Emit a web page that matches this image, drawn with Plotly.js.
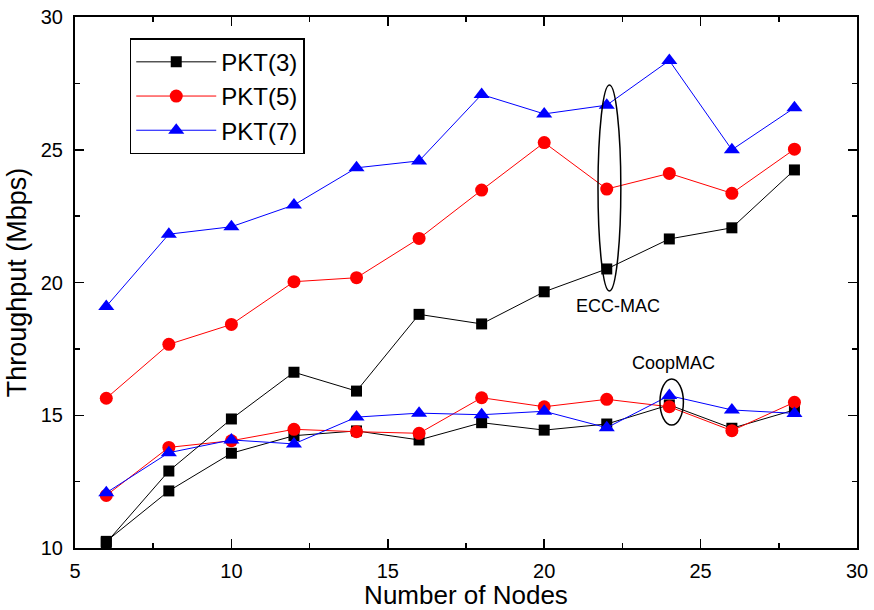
<!DOCTYPE html>
<html>
<head>
<meta charset="utf-8">
<script src="https://cdn.plot.ly/plotly-3.0.1.min.js"></script>
<style>html,body{margin:0;padding:0;background:#fff;}#chart{width:874px;height:610px;}</style>
</head>
<body>
<div id="chart"></div>
<script>
const nodes = [6, 8, 10, 12, 14, 16, 18, 20, 22, 24, 26, 28];
// ECC-MAC
const eccPkt3 = [10.2, 12.9, 14.86, 16.62, 15.91, 18.8, 18.44, 19.65, 20.51, 21.64, 22.06, 24.24];
const eccPkt5 = [15.64, 17.67, 18.42, 20.03, 20.18, 21.66, 23.48, 25.27, 23.52, 24.11, 23.36, 25.02];
const eccPkt7 = [19.1, 21.82, 22.1, 22.92, 24.32, 24.58, 27.08, 26.35, 26.68, 28.36, 25.0, 26.58];
// CoopMAC
const coopPkt3 = [10.25, 12.15, 13.57, 14.23, 14.41, 14.07, 14.72, 14.44, 14.67, 15.39, 14.51, 15.2];
const coopPkt5 = [11.98, 13.79, 14.04, 14.47, 14.38, 14.32, 15.66, 15.32, 15.6, 15.32, 14.42, 15.49];
const coopPkt7 = [12.08, 13.59, 14.07, 13.92, 14.93, 15.08, 15.02, 15.15, 14.53, 15.74, 15.2, 15.07];

const seriesNames = ['PKT(3)', 'PKT(5)', 'PKT(7)'];
const colors = ['#000000', '#ff0000', '#0000ff'];
const symbols = ['square', 'circle', 'triangle-up'];
const sizes = [11, 13, 14];

const eccSets = [eccPkt3, eccPkt5, eccPkt7];
const coopSets = [coopPkt3, coopPkt5, coopPkt7];

const traces = [];
[coopSets, eccSets].forEach((sets, gi) => {
  sets.forEach((vals, i) => {
    traces.push({
      x: nodes, y: vals, type: 'scatter', mode: 'lines+markers',
      name: seriesNames[i],
      legendgroup: seriesNames[i],
      showlegend: gi === 1,
      legendrank: i + 1,
      line: {color: colors[i], width: 1},
      marker: {color: colors[i], symbol: symbols[i], size: sizes[i]}
    });
  });
});

const font = 'Liberation Sans, Arial, Helvetica, sans-serif';
const layout = {
  width: 874, height: 610,
  margin: {l: 75, r: 17, t: 17, b: 62},
  paper_bgcolor: '#fff', plot_bgcolor: '#fff',
  font: {family: font, color: '#000', size: 20},
  showlegend: true,
  legend: {
    x: 0.07, y: 0.96, xanchor: 'left', yanchor: 'top',
    bordercolor: '#000', borderwidth: 1.5, bgcolor: '#fff',
    font: {family: font, size: 24, color: '#000'},
    traceorder: 'normal', itemwidth: 80, tracegroupgap: 0
  },
  xaxis: {
    range: [5, 30], dtick: 5, tick0: 5,
    ticks: 'inside', ticklen: 9, tickwidth: 1.5, tickcolor: '#000',
    minor: {dtick: 2.5, ticks: 'inside', ticklen: 5, tickwidth: 1.5, tickcolor: '#000'},
    showline: true, linecolor: '#000', linewidth: 2, mirror: 'allticks',
    showgrid: false, zeroline: false,
    tickfont: {size: 20},
    ticklabelstandoff: 4,
    title: {text: 'Number of Nodes', font: {size: 26}, standoff: 2}
  },
  yaxis: {
    range: [10, 30], dtick: 5, tick0: 10,
    ticks: 'inside', ticklen: 9, tickwidth: 1.5, tickcolor: '#000',
    minor: {dtick: 2.5, ticks: 'inside', ticklen: 5, tickwidth: 1.5, tickcolor: '#000'},
    showline: true, linecolor: '#000', linewidth: 2, mirror: 'allticks',
    showgrid: false, zeroline: false,
    tickfont: {size: 20},
    ticklabelstandoff: 6,
    title: {text: 'Throughput (Mbps)', font: {size: 27}, standoff: 6}
  },
  shapes: [
    {type: 'circle', xref: 'x', yref: 'y', x0: 21.72, x1: 22.45, y0: 19.68, y1: 27.44,
     line: {color: '#000', width: 1.5}},
    {type: 'circle', xref: 'x', yref: 'y', x0: 23.7, x1: 24.45, y0: 14.63, y1: 16.37,
     line: {color: '#000', width: 1.5}}
  ],
  annotations: [
    {x: 22.37, y: 19.11, xref: 'x', yref: 'y', text: 'ECC-MAC', showarrow: false,
     font: {family: font, size: 18, color: '#000'}},
    {x: 24.13, y: 16.97, xref: 'x', yref: 'y', text: 'CoopMAC', showarrow: false,
     font: {family: font, size: 18, color: '#000'}}
  ]
};

Plotly.newPlot('chart', traces, layout, {displayModeBar: false, staticPlot: true});
</script>
</body>
</html>
